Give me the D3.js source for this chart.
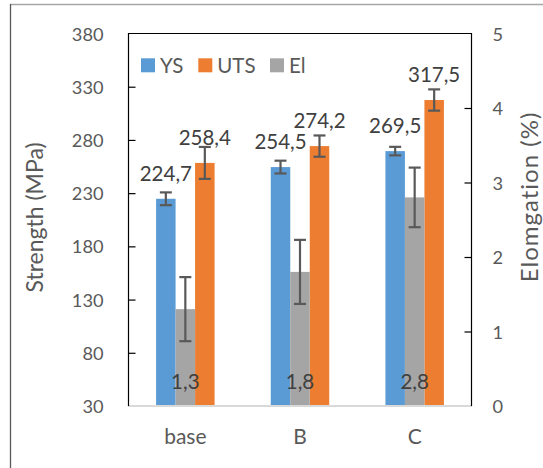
<!DOCTYPE html>
<html>
<head>
<meta charset="utf-8">
<script src="https://cdn.jsdelivr.net/npm/d3@7"></script>
<style>
  html, body { margin: 0; padding: 0; background: #fff; }
  svg { display: block; font-family: Lato, "Open Sans", sans-serif; }
</style>
</head>
<body>
<svg id="chart" width="543" height="468"></svg>
<script>
// ---- data ----
const categories = ["base", "B", "C"];
const ysValues  = [224.7, 254.5, 269.5];
const ysErrors  = [6, 6, 4];
const utsValues = [258.4, 274.2, 317.5];
const utsErrors = [15, 10, 10];
const elValues  = [1.3, 1.8, 2.8];
const elErrors  = [0.43, 0.43, 0.4];
const leftTicks  = [30, 80, 130, 180, 230, 280, 330, 380];
const rightTicks = [0, 1, 2, 3, 4, 5];
const legendLabels = ["YS", "UTS", "El"];
const leftTitle = "Strength (MPa)";
const rightTitle = "Elomgation (%)";

// ---- layout ----
const W = 543, H = 468;
const plot = { left: 128, right: 472, top: 33.5, bottom: 406 };
const colors = { YS: "#5b9bd5", UTS: "#ed7d31", El: "#a5a5a5" };
const textColor = "#595959";
const labelColor = "#404040";

const svg = d3.select("#chart");
const locale = d3.formatLocale({ decimal: ",", thousands: ".", grouping: [3], currency: ["", ""] });
const fmt = locale.format(".1f");

const x = d3.scaleBand().domain(categories).range([plot.left, plot.right]).padding(0);
const yL = d3.scaleLinear().domain([30, 380]).range([plot.bottom, plot.top]);
const yR = d3.scaleLinear().domain([0, 5]).range([plot.bottom, plot.top]);
// three slots per category: YS, El, UTS
const slot = d3.scaleBand().domain(["YS", "El", "UTS"])
  .range([0, x.bandwidth() * 0.51]).padding(0);
const groupOffset = (x.bandwidth() - x.bandwidth() * 0.51) / 2;

// outer frame
svg.append("line").attr("x1", 10).attr("x2", W).attr("y1", 4.5).attr("y2", 4.5)
  .attr("stroke", "#a6a6a6").attr("stroke-width", 1.5);
svg.append("line").attr("x1", 10.5).attr("x2", 10.5).attr("y1", 4).attr("y2", H)
  .attr("stroke", "#595959").attr("stroke-width", 1.3);

// series definitions
const series = [
  { key: "YS", values: ysValues, errors: ysErrors, scale: yL },
  { key: "UTS", values: utsValues, errors: utsErrors, scale: yL },
  { key: "El", values: elValues, errors: elErrors, scale: yR }
];

const gBars = svg.append("g");
series.forEach(s => {
  const data = categories.map((c, i) => ({ c, v: s.values[i], e: s.errors[i] }));
  const bx = d => x(d.c) + groupOffset + slot(s.key);
  gBars.selectAll(null).data(data).enter().append("rect")
    .attr("x", bx)
    .attr("width", slot.bandwidth())
    .attr("y", d => s.scale(d.v))
    .attr("height", d => s.scale.range()[0] - s.scale(d.v))
    .attr("fill", colors[s.key]);
  s.data = data; s.bx = bx;
});

// error bars
const gErr = svg.append("g").attr("stroke", "#595959").attr("stroke-width", 2.2);
series.forEach(s => {
  s.data.forEach(d => {
    const cx = s.bx(d) + slot.bandwidth() / 2;
    const y1 = s.scale(d.v + d.e), y2 = s.scale(d.v - d.e);
    gErr.append("line").attr("x1", cx).attr("x2", cx).attr("y1", y1).attr("y2", y2);
    gErr.append("line").attr("x1", cx - 6).attr("x2", cx + 6).attr("y1", y1).attr("y2", y1);
    gErr.append("line").attr("x1", cx - 6).attr("x2", cx + 6).attr("y1", y2).attr("y2", y2);
  });
});

// data labels
series.forEach(s => {
  svg.append("g").selectAll("text").data(s.data).enter().append("text")
    .attr("x", d => s.bx(d) + slot.bandwidth() / 2)
    .attr("y", d => s.key === "El" ? plot.bottom - 17.5 : s.scale(d.v) - 18)
    .attr("text-anchor", "middle")
    .attr("font-size", "20.5px")
    .attr("fill", labelColor)
    .text(d => fmt(d.v));
});

// plot frame
const frame = svg.append("g").attr("fill", "none");
frame.append("line").attr("x1", plot.left).attr("x2", plot.right).attr("y1", plot.bottom).attr("y2", plot.bottom)
  .attr("stroke", "#d9d9d9").attr("stroke-width", 2);
frame.append("path")
  .attr("d", `M${plot.left + 0.5},${plot.bottom}V${plot.top}H${plot.right - 0.5}V${plot.bottom}`)
  .attr("stroke", "#000").attr("stroke-width", 1.2);

// axes
const axL = svg.append("g").attr("transform", `translate(${plot.left + 0.5},0)`)
  .call(d3.axisLeft(yL).tickValues(leftTicks).tickSize(-7).tickPadding(25).tickFormat(d3.format("d")));
const axR = svg.append("g").attr("transform", `translate(${plot.right - 0.5},0)`)
  .call(d3.axisRight(yR).tickValues(rightTicks).tickSize(-7).tickPadding(21).tickFormat(d3.format("d")));
[axL, axR].forEach(ax => {
  ax.select(".domain").remove();
  ax.selectAll(".tick line").attr("stroke", "#000").attr("stroke-width", 1.2)
    .filter(function(d, i, n) { return i === 0 || i === n.length - 1; }).remove();
  ax.selectAll(".tick text").attr("fill", textColor).attr("font-size", "18.2px")
    .attr("font-family", null).attr("dy", "0.36em");
  ax.attr("font-family", null).attr("font-size", null);
});

// category labels
svg.append("g").selectAll("text").data(categories).enter().append("text")
  .attr("x", d => x(d) + x.bandwidth() / 2)
  .attr("y", 444)
  .attr("text-anchor", "middle")
  .attr("font-size", "21px")
  .attr("fill", textColor)
  .text(d => d);

// axis titles
svg.append("text")
  .attr("transform", `translate(43,217.5) rotate(-90)`)
  .attr("text-anchor", "middle")
  .attr("font-size", "23px")
  .attr("fill", textColor)
  .text(leftTitle);
svg.append("text")
  .attr("transform", `translate(537.5,197) rotate(-90)`)
  .attr("text-anchor", "middle")
  .attr("font-size", "24px")
  .attr("letter-spacing", "1px")
  .attr("fill", textColor)
  .text(rightTitle);

// legend
const legendX = [141, 198.3, 270];
const leg = svg.append("g");
legendLabels.forEach((lab, i) => {
  leg.append("rect").attr("x", legendX[i]).attr("y", 58.3).attr("width", 14).attr("height", 14)
    .attr("fill", colors[lab]);
  leg.append("text").attr("x", legendX[i] + 19).attr("y", 72.5)
    .attr("font-size", "20.5px").attr("fill", textColor).text(lab);
});
</script>
</body>
</html>
